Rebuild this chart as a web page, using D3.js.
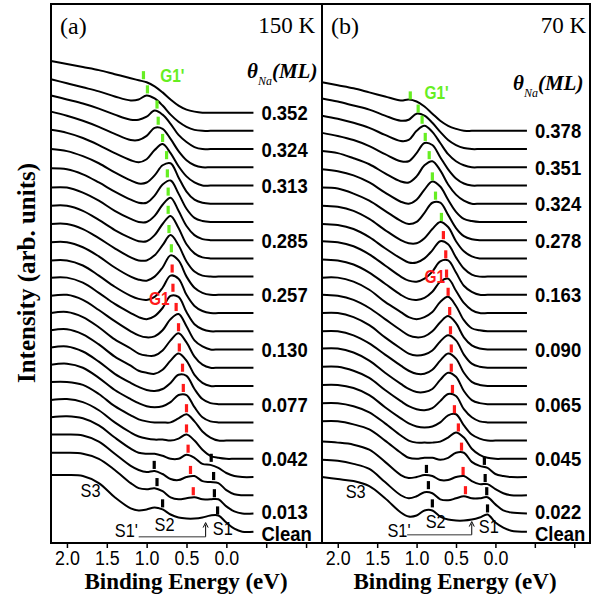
<!DOCTYPE html>
<html><head><meta charset="utf-8">
<script src="https://cdn.jsdelivr.net/npm/d3@7"></script>
<style>body{margin:0;background:#fff}svg{display:block}</style>
</head><body>
<svg id="c" width="593" height="604"></svg>
<script>
// ---------------- DATA ----------------
const energyA = [2.2,2.0,1.8,1.6,1.4,1.2,1.1,1.0,0.9,0.8,0.7,0.6,0.5,0.4,0.3,0.2,0.1,0.0,-0.1,-0.2,-0.34];
const energyB = [2.2,2.0,1.8,1.6,1.4,1.2,1.1,1.0,0.9,0.8,0.7,0.6,0.5,0.4,0.3,0.2,0.1,0.0,-0.1,-0.2,-0.40];
// intensity above each spectrum's own baseline (arb. units), top spectrum first
const spectraA = [
[51,48,45,42,38,34,32,30,26,20,13,7,3,1,0,0,0,0,0,0,0],
[51,47,43,39,34,30,31,35,32,25,16,9,4,1,0,0,0,0,0,0,0],
[53,49,45,40,34,29,29,32,38,34,25,14,7,2,0,0,0,0,0,0,0],
[55,51,46,40,33,27,27,31,39,38,28,16,7,2,0,0,0,0,0,0,0],
[55,52,47,40,32,25,23,26,35,41,32,19,9,3,0,0,0,0,0,0,0],
[54,52,47,40,31,23,20,21,28,38,40,26,12,4,1,0,0,0,0,0,0],
[53,52,47,39,30,22,19,19,26,37,41,28,13,4,1,0,0,0,0,0,0],
[52,52,47,39,29,21,18,18,24,35,42,29,14,5,1,0,0,0,0,0,0],
[52,52,47,38,28,20,17,17,23,34,42,30,14,5,1,0,0,0,0,0,0],
[52,52,47,38,28,19,16,16,21,31,41,31,15,5,1,0,0,0,0,0,0],
[52,52,47,38,27,18,15,14,18,27,39,34,18,7,2,0,0,0,0,0,0],
[52,52,47,37,26,17,14,13,16,25,37,34,18,7,2,0,0,0,0,0,0],
[53,53,48,38,27,18,14,12,15,23,35,34,19,7,2,0,0,0,0,0,0],
[53,54,49,39,28,18,14,12,13,19,30,35,23,9,3,0,0,0,0,0,0],
[54,55,50,40,28,19,14,12,12,17,27,34,25,11,3,0,0,0,0,0,0],
[55,56,51,41,29,20,15,13,12,16,25,32,25,11,3,0,0,0,0,0,0],
[56,57,52,42,30,21,17,14,13,15,21,29,28,15,5,1,0,0,0,0,0],
[57,58,54,44,32,23,19,16,15,16,20,27,27,15,5,1,0,0,0,0,0],
[58,58,55,46,34,25,21,19,18,18,18,22,26,19,9,3,0,0,0,0,0],
[58,59,56,48,36,26,22,20,19,19,18,20,24,18,9,3,1,0,0,0,0],
[59,60,58,51,39,28,24,23,23,21,18,18,22,19,13,12,9,4,1,0,0],
[60,60,59,53,41,29,25,23,24,21,16,15,18,19,14,13,12,5,1,0,0],
[60,60,59,54,43,30,25,24,25,22,16,14,15,16,14,14,14,7,2,0,0],
[56,56,55,48,34,23,21,22,24,22,17,14,13,13,14,16,16,9,3,0,0]
];
const spectraB = [
[48,45,42,38,34,30,31,29,24,17,10,5,2,0,0,0,0,0,0,0,0],
[50,47,43,39,33,28,29,35,33,26,17,9,4,1,0,0,0,0,0,0,0],
[51,48,44,39,32,26,27,36,41,35,24,13,6,2,0,0,0,0,0,0,0],
[52,49,45,39,31,24,24,32,42,40,28,16,7,2,0,0,0,0,0,0,0],
[52,50,45,39,30,22,21,27,38,42,33,19,9,3,0,0,0,0,0,0,0],
[52,50,46,39,29,20,18,22,32,40,35,22,10,3,1,0,0,0,0,0,0],
[52,51,46,39,29,19,16,18,27,37,37,25,12,4,1,0,0,0,0,0,0],
[52,51,47,39,28,18,15,15,20,29,36,31,17,7,2,0,0,0,0,0,0],
[52,51,47,39,28,18,14,14,18,26,35,32,19,8,2,0,0,0,0,0,0],
[53,52,48,40,29,18,14,13,16,23,33,34,22,9,3,0,0,0,0,0,0],
[53,52,48,40,29,18,14,13,15,21,31,34,22,10,3,0,0,0,0,0,0],
[53,53,49,41,29,19,14,12,14,19,29,34,25,11,3,1,0,0,0,0,0],
[54,53,49,41,30,19,14,12,13,18,27,33,26,12,4,1,0,0,0,0,0],
[54,54,50,42,30,19,14,12,13,17,26,32,27,13,4,1,0,0,0,0,0],
[54,54,50,42,31,20,15,12,12,16,25,32,27,13,4,1,0,0,0,0,0],
[55,55,51,43,31,20,15,12,12,15,24,31,27,13,4,1,0,0,0,0,0],
[55,55,51,44,32,21,16,13,12,14,21,28,26,13,5,1,0,0,0,0,0],
[55,55,52,45,33,22,17,14,13,14,18,25,26,15,6,2,0,0,0,0,0],
[55,55,52,46,35,23,18,16,16,16,17,21,26,21,10,4,1,0,0,0,0],
[55,55,52,47,36,24,19,18,19,19,17,19,24,24,15,11,9,3,1,0,0],
[53,52,50,45,33,20,17,18,20,19,15,15,18,19,14,11,11,6,2,0,0],
[53,52,49,44,31,18,15,17,21,20,14,13,15,17,15,15,16,9,3,1,0],
[54,52,50,45,33,19,15,16,21,21,15,12,11,11,12,14,17,9,4,1,0]
];
const labelIndexA = [0,2,4,7,10,13,16,19,22,23];
const labelTextA  = ["0.352","0.324","0.313","0.285","0.257","0.130","0.077","0.042","0.013","Clean"];
const labelIndexB = [0,2,4,6,9,12,15,18,21,22];
const labelTextB  = ["0.378","0.351","0.324","0.278","0.163","0.090","0.065","0.045","0.022","Clean"];
// peak markers: [spectrum index, energy, height above baseline, kind]
const marksA = [
[0,1.04,37,"g"],[1,0.99,41,"g"],[2,0.87,44,"g"],[3,0.855,46,"g"],[4,0.80,47,"g"],[5,0.75,48,"g"],
[6,0.74,48,"g"],[7,0.73,48,"g"],[8,0.73,48,"g"],[9,0.72,47,"g"],[10,0.69,46,"g"],
[11,0.68,44,"r"],[12,0.67,43,"r"],[13,0.63,42,"r"],[14,0.60,40,"r"],[15,0.59,38,"r"],[16,0.55,36,"r"],
[17,0.54,34,"r"],[18,0.50,32,"r"],[19,0.50,30,"r"],[20,0.48,28,"r"],[21,0.45,25,"r"],[22,0.415,22,"r"],
[21,0.905,30,"k"],[22,0.87,31,"k"],[23,0.80,28,"k"],
[20,0.19,19,"k"],[21,0.16,19,"k"],[22,0.15,20,"k"],[23,0.11,21,"k"]
];
const marksB = [
[0,1.08,35,"g"],[1,0.98,40,"g"],[2,0.93,47,"g"],[3,0.89,48,"g"],[4,0.84,48,"g"],[5,0.80,45,"g"],
[6,0.76,44,"g"],[7,0.685,41,"g"],
[8,0.66,41,"r"],[9,0.63,40,"r"],[10,0.62,39,"r"],[11,0.60,39,"r"],[12,0.58,38,"r"],[13,0.57,37,"r"],
[14,0.56,37,"r"],[15,0.56,36,"r"],[16,0.545,33,"r"],[17,0.52,31,"r"],[18,0.47,31,"r"],[19,0.43,30,"r"],
[20,0.41,24,"r"],[21,0.38,23,"r"],
[20,0.875,26,"k"],[21,0.85,28,"k"],[22,0.80,28,"k"],
[19,0.14,16,"k"],[20,0.13,17,"k"],[21,0.11,22,"k"],[22,0.10,23,"k"]
];
const tickValues = [2.0,1.5,1.0,0.5,0.0,-0.5,-1.0];
// annotations: [text, energy, level (absolute, arb. units), kind]
const annotA = [["G1'",0.83,444,"g"],["G1",0.97,224,"r"],["S3",1.83,34,"k"],["S2",0.90,1,"k"],["S1",0.17,-3,"k"],["S1'",1.40,-5,"k"]];
const annotB = [["G1'",0.90,427,"g"],["G1",0.90,246,"r"],["S3",1.90,33,"k"],["S2",0.885,4,"k"],["S1",0.21,-1,"k"],["S1'",1.37,-5,"k"]];
// S1'-S1 bracket: [from energy, to energy, level, arrow top level]
const bracketA = [1.10,0.26,-5,9];
const bracketB = [1.12,0.30,-3,10];

// ---------------- DRAW ----------------
const svg = d3.select("#c");
const STEP = 18;                      // offset between stacked spectra
const y = d3.scaleLinear().domain([0, 520]).range([531.7, 531.7 - 520*18.22/18]);
const colors = {g:"#66ee22", r:"#ff1a1a", k:"#000"};
const sans = "'Liberation Sans', Arial, sans-serif";
const serif = "'Liberation Serif', 'Times New Roman', serif";

function txt(g, x, yy, s, o) {
  return g.append("text")
    .attr("transform", `translate(${x},${yy}) scale(${o.sx||1},1)`)
    .attr("font-family", o.ff || sans).attr("font-size", o.fs)
    .attr("font-weight", o.fw || "normal").attr("font-style", o.fst || "normal")
    .attr("fill", o.fill || "#000").attr("text-anchor", o.anchor || "start")
    .text(s);
}

function panel(cfg) {
  const x = d3.scaleLinear().domain([2.2, -1.2]).range([cfg.x0, cfg.x1]);
  const g = svg.append("g");
  const n = cfg.spectra.length;
  const off = i => (n - 1 - i) * STEP;
  const line = d3.line().curve(d3.curveCatmullRom.alpha(0.5));
  cfg.spectra.forEach((row, i) => {
    g.append("path")
      .attr("d", line(row.map((v, k) => [x(cfg.energy[k]), y(v + off(i))])))
      .attr("fill", "none").attr("stroke", "#000").attr("stroke-width", 2)
      .attr("stroke-linejoin", "round");
  });
  cfg.marks.forEach(([i, e, h, kd]) => {
    g.append("rect").attr("x", x(e) - 1.6).attr("width", 3.2)
      .attr("y", y(off(i) + h + 4)).attr("height", y(off(i) + h - 4) - y(off(i) + h + 4))
      .attr("fill", colors[kd]);
  });
  const eEnd = cfg.energy[cfg.energy.length - 1];
  cfg.labelIndex.forEach((i, k) => {
    const last = i === n - 1, prevLast = i === n - 2;
    txt(g, x(eEnd) + 8, y(off(i)) + 7.5 + (last ? 1.5 : 0) - (prevLast ? 1.5 : 0), cfg.labelText[k],
      {fs: 21, fw: "bold", sx: 0.88});
  });
  cfg.annot.forEach(([s, e, lv, kd]) => {
    txt(g, x(e), y(lv), s, {fs: kd === "k" ? 19 : 18, fw: kd === "k" ? "normal" : "bold",
      sx: 0.86, fill: colors[kd]});
  });
  const [e0, e1, lv, top] = cfg.bracket;
  g.append("line").attr("x1", x(e0)).attr("x2", x(e1)).attr("y1", y(lv)).attr("y2", y(lv))
    .attr("stroke", "#777").attr("stroke-width", 1.3);
  g.append("line").attr("x1", x(e1)).attr("x2", x(e1)).attr("y1", y(lv)).attr("y2", y(top) + 2)
    .attr("stroke", "#000").attr("stroke-width", 1);
  g.append("path").attr("d", `M${x(e1)-2.5},${y(top)+5}L${x(e1)},${y(top)}L${x(e1)+2.5},${y(top)+5}`)
    .attr("fill", "none").attr("stroke", "#000").attr("stroke-width", 1);
  g.append("rect").attr("x", cfg.x0).attr("y", 4).attr("width", cfg.x1 - cfg.x0).attr("height", 539)
    .attr("fill", "none").attr("stroke", "#000").attr("stroke-width", 2);
  const ax = g.append("g").attr("transform", "translate(0,543)")
    .call(d3.axisBottom(x).tickValues(tickValues).tickSize(5).tickPadding(2)
      .tickFormat(d => d >= 0 ? d.toFixed(1) : ""));
  ax.select(".domain").remove();
  ax.selectAll(".tick line").attr("stroke", "#000").attr("stroke-width", 1.5);
  ax.selectAll(".tick text").attr("font-family", sans).attr("font-size", 21)
    .attr("fill", "#000").attr("transform", "scale(0.85,1)");
  g.append("text").attr("x", cfg.titleX).attr("y", 589).attr("text-anchor", "middle")
    .attr("font-family", serif).attr("font-weight", "bold").attr("font-size", 23)
    .text("Binding Energy (eV)");
  txt(g, cfg.x0 + 9, 34, cfg.letter, {ff: serif, fs: 24});
  txt(g, cfg.tempX, 33, cfg.temp, {ff: serif, fs: 23, anchor: "end"});
  const th = g.append("text").attr("x", cfg.thX).attr("y", cfg.thY)
    .attr("font-family", serif).attr("font-weight", "bold").attr("font-style", "italic").attr("font-size", 21);
  th.append("tspan").text("θ");
  th.append("tspan").attr("dy", 7).attr("font-size", 12).attr("font-weight", "normal").text("Na");
  th.append("tspan").attr("dy", -7).text("(ML)");
}

panel({x0: 51, x1: 322, energy: energyA, spectra: spectraA, labelIndex: labelIndexA, labelText: labelTextA,
  marks: marksA, annot: annotA, bracket: bracketA, titleX: 186, letter: "(a)", temp: "150 K", tempX: 315,
  thX: 247, thY: 78});
panel({x0: 322, x1: 590, energy: energyB, spectra: spectraB, labelIndex: labelIndexB, labelText: labelTextB,
  marks: marksB, annot: annotB, bracket: bracketB, titleX: 455, letter: "(b)", temp: "70 K", tempX: 586,
  thX: 513, thY: 90});

svg.append("text").attr("transform", "translate(26,273) rotate(-90)")
  .attr("text-anchor", "middle").attr("dominant-baseline", "central")
  .attr("font-family", serif).attr("font-weight", "bold").attr("font-size", 25)
  .text("Intensity (arb. units)");
</script>
</body></html>
